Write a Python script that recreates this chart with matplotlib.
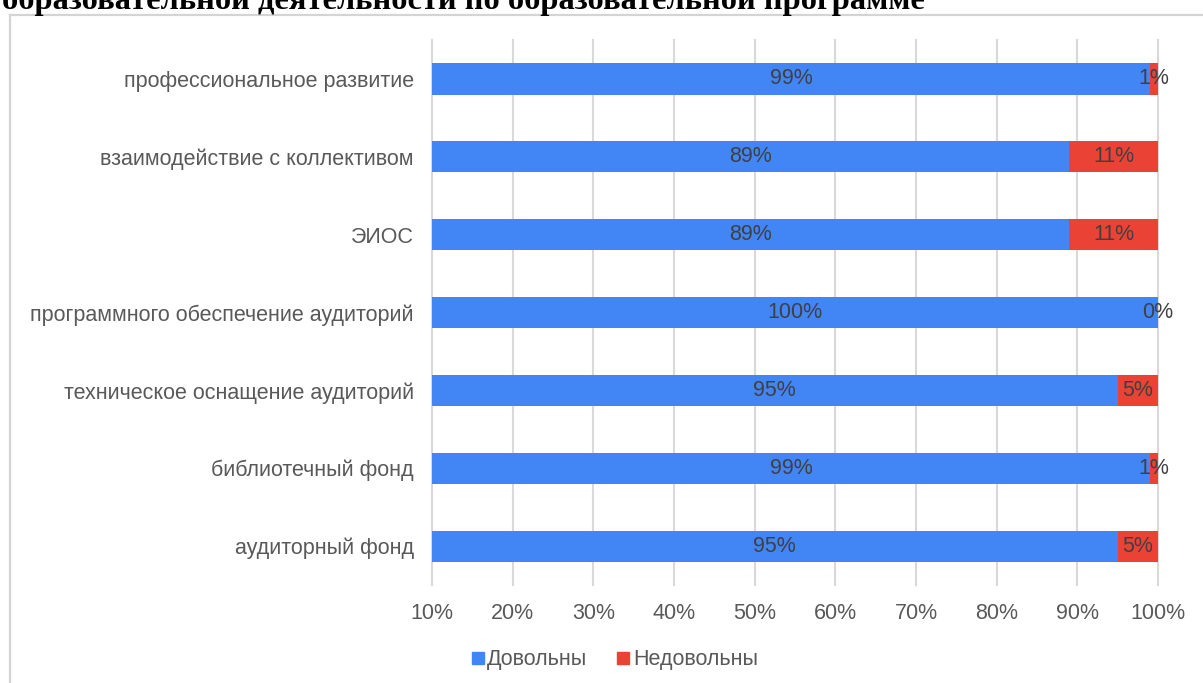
import matplotlib
matplotlib.use("Agg")
import matplotlib.pyplot as plt
from matplotlib.lines import Line2D
from matplotlib.ticker import FixedLocator, FuncFormatter

# ---- data ----
categories = [
    "аудиторный фонд",
    "библиотечный фонд",
    "техническое оснащение аудиторий",
    "программного обеспечение аудиторий",
    "ЭИОС",
    "взаимодействие с коллективом",
    "профессиональное развитие",
]
satisfied = [95, 99, 95, 100, 89, 89, 99]
unsatisfied = [5, 1, 5, 0, 11, 11, 1]
series_names = ["Довольны", "Недовольны"]
x_ticks = [10, 20, 30, 40, 50, 60, 70, 80, 90, 100]
title_text = "образовательной деятельности по образовательной программе"

# ---- style ----
BLUE = "#4285F4"
RED = "#EA4335"
GRID = "#d9d9d9"
LABEL = "#595959"
DATA = "#404040"
FS = 15.5

plt.rcParams["font.family"] = ["Liberation Sans", "DejaVu Sans"]

W, H = 1203, 683
fig = plt.figure(figsize=(W / 100, H / 100), dpi=100)

def fx(px):
    return px / W

def fy(py):
    return 1 - py / H

# outer frame (partially visible)
fig.add_artist(Line2D([fx(9.5), fx(9.5)], [fy(14.5), 0], color="#d4d4d4", lw=1.6))
fig.add_artist(Line2D([fx(9.5), 1], [fy(14.5), fy(14.5)], color="#d4d4d4", lw=1.6))

# title (cut off at the top edge, as in the reference)
fig.text(fx(2), fy(9), title_text, family=["Liberation Serif", "DejaVu Serif"],
         weight="bold", fontsize=23.4, va="baseline", ha="left", color="black")

ax = fig.add_axes([fx(432), fy(585), fx(1158) - fx(432), (585 - 40) / H])

y = list(range(len(categories)))
xmin, xmax = 10, 100
ax.barh(y, satisfied, height=0.4, color=BLUE, label=series_names[0], zorder=3)
ax.barh(y, unsatisfied, left=satisfied, height=0.4, color=RED, label=series_names[1], zorder=3)

for i, (s, u) in enumerate(zip(satisfied, unsatisfied)):
    ax.text((xmin + s) / 2, i, f"{s}%", ha="center", va="center",
            fontsize=FS, color=DATA, zorder=4)
    ax.text(s + u / 2, i, f"{u}%", ha="center", va="center",
            fontsize=FS, color=DATA, zorder=4, clip_on=False)

ax.set_xlim(xmin, xmax)
ax.set_ylim(-0.5, len(categories) - 0.5)
ax.xaxis.set_major_locator(FixedLocator(x_ticks))
ax.xaxis.set_major_formatter(FuncFormatter(lambda v, p: f"{int(round(v))}%"))
ax.set_yticks(y)
ax.set_yticklabels(categories)
ax.tick_params(axis="both", length=0, labelsize=FS, labelcolor=LABEL)
ax.tick_params(axis="y", pad=13)
ax.tick_params(axis="x", pad=13)
for sp in ax.spines.values():
    sp.set_visible(False)
ax.grid(axis="x", color=GRID, lw=1.5, zorder=0)
ax.set_axisbelow(True)
for gl in ax.get_xgridlines():
    gl.set_clip_on(False)

handles = [
    Line2D([], [], marker="s", ls="none", color=BLUE, markersize=8),
    Line2D([], [], marker="s", ls="none", color=RED, markersize=8),
]
fig.legend(handles, series_names, loc="center", bbox_to_anchor=(fx(615), fy(660)),
           ncol=2, frameon=False, fontsize=FS, labelcolor=LABEL,
           handlelength=0.5, handletextpad=0.2, columnspacing=1.4, borderaxespad=0)

fig.savefig("out.png", dpi=100)
